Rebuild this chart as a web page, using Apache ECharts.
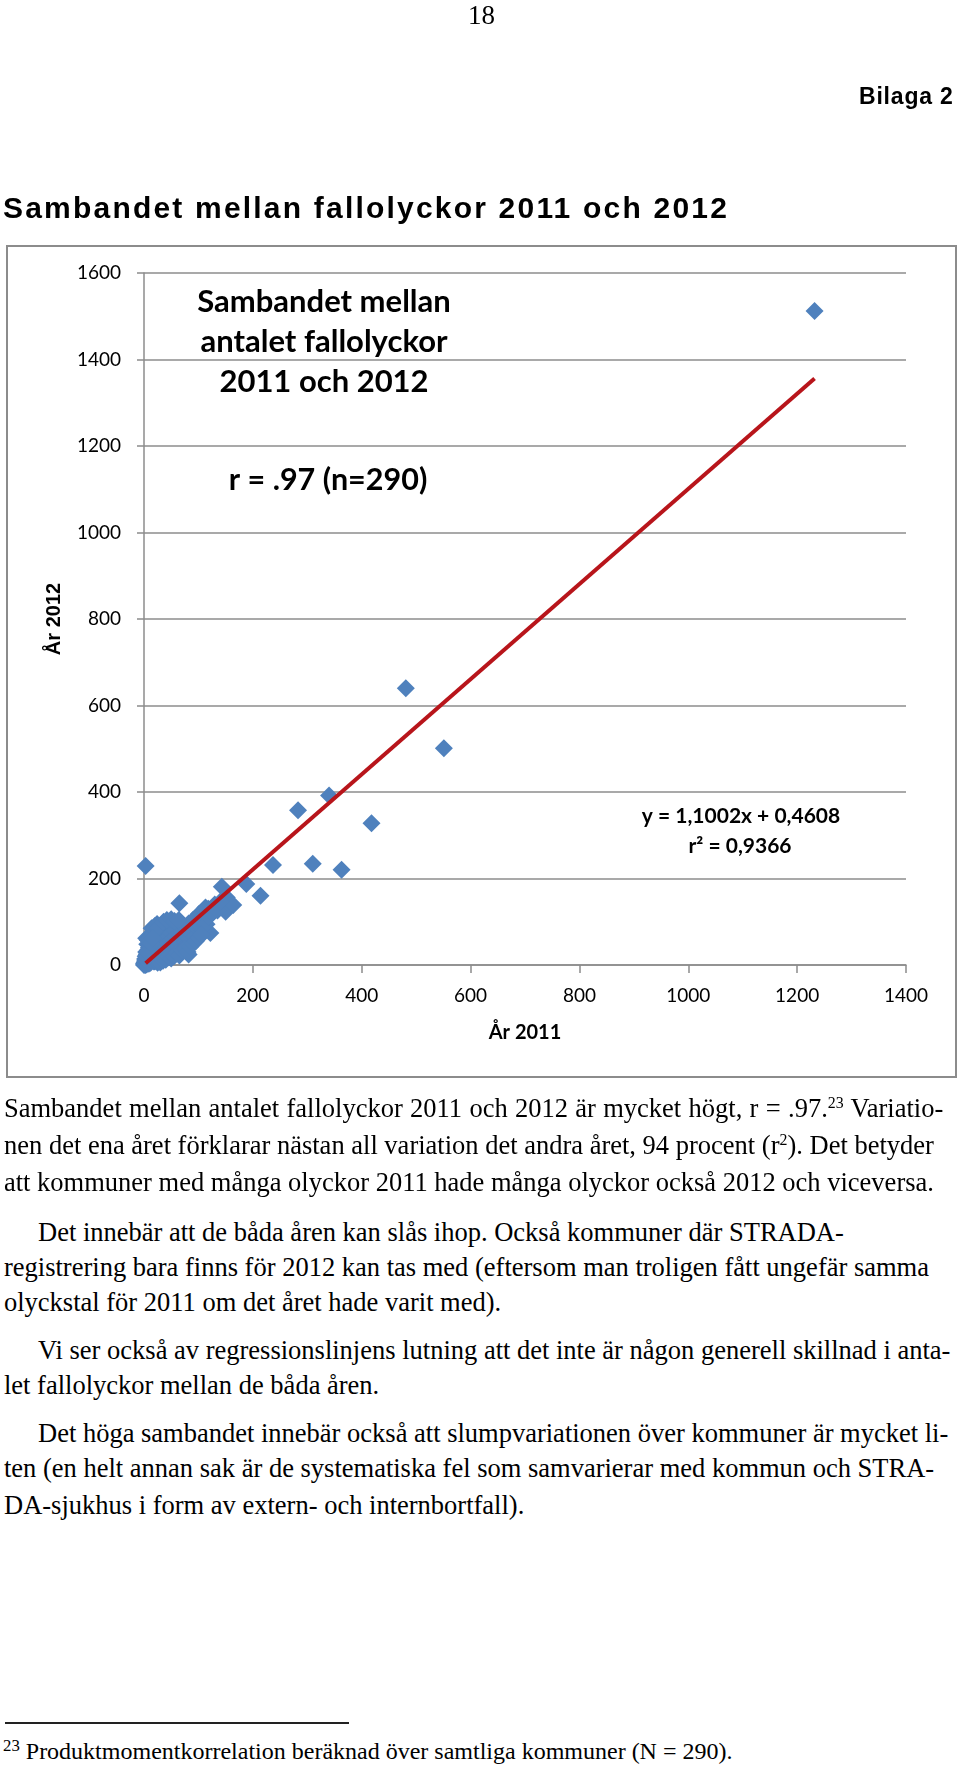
<!DOCTYPE html>
<html>
<head>
<meta charset="utf-8">
<script src="https://cdn.jsdelivr.net/npm/echarts@6/dist/echarts.min.js"></script>
<style>
  html, body { margin: 0; padding: 0; background: #fff; }
  #page { position: relative; width: 960px; height: 1768px; overflow: hidden; }
  #main { position: absolute; left: 0; top: 0; width: 960px; height: 1100px; }
  .t { position: absolute; white-space: nowrap; color: #000; z-index: 2; }
  .serif { font-family: "Liberation Serif", "DejaVu Serif", serif; }
  .body { font-size: 26.5px; line-height: 1; }
  sup { font-size: 60%; vertical-align: 0; position: relative; top: -0.55em; }
</style>
</head>
<body>
<div id="page">
  <div id="main"></div>

  <div class="t serif" style="left:468px; top:0px; font-size:27px;">18</div>
  <div class="t" style="left:859px; top:83px; font-family:'Liberation Sans'; font-weight:bold; font-size:23px; letter-spacing:0.8px;">Bilaga 2</div>
  <div class="t" style="left:3px; top:191px; font-family:'Liberation Sans'; font-weight:bold; font-size:30px; letter-spacing:2.2px;">Sambandet mellan fallolyckor 2011 och 2012</div>

  <div class="t serif body" style="left:4px; top:1095px; word-spacing:0.7px;">Sambandet mellan antalet fallolyckor 2011 och 2012 är mycket högt, r = .97.<sup>23</sup> Variatio-</div>
  <div class="t serif body" style="left:4px; top:1132px;">nen det ena året förklarar nästan all variation det andra året, 94 procent (r<sup>2</sup>). Det betyder</div>
  <div class="t serif body" style="left:4px; top:1169px;">att kommuner med många olyckor 2011 hade många olyckor också 2012 och viceversa.</div>

  <div class="t serif body" style="left:38px; top:1219px;">Det innebär att de båda åren kan slås ihop. Också kommuner där STRADA-</div>
  <div class="t serif body" style="left:4px; top:1254px;">registrering bara finns för 2012 kan tas med (eftersom man troligen fått ungefär samma</div>
  <div class="t serif body" style="left:4px; top:1289px;">olyckstal för 2011 om det året hade varit med).</div>

  <div class="t serif body" style="left:38px; top:1337px;">Vi ser också av regressionslinjens lutning att det inte är någon generell skillnad i anta-</div>
  <div class="t serif body" style="left:4px; top:1372px;">let fallolyckor mellan de båda åren.</div>

  <div class="t serif body" style="left:38px; top:1420px;">Det höga sambandet innebär också att slumpvariationen över kommuner är mycket li-</div>
  <div class="t serif body" style="left:4px; top:1455px;">ten (en helt annan sak är de systematiska fel som samvarierar med kommun och STRA-</div>
  <div class="t serif body" style="left:4px; top:1492px;">DA-sjukhus i form av extern- och internbortfall).</div>

  <div style="position:absolute; left:5px; top:1722px; width:344px; height:2px; background:#222;"></div>
  <div class="t serif" style="left:3px; top:1739px; font-size:24px; line-height:1;"><sup style="font-size:70%; top:-0.45em;">23</sup> Produktmomentkorrelation beräknad över samtliga kommuner (N = 290).</div>
</div>

<script>
// fall accidents per municipality, 2011 (x) vs 2012 (y)
const x2011 = [
  1232, 481, 551, 340, 283, 418, 3, 310, 237, 363, 143, 188, 214, 65, 152, 158, 150, 164, 113, 101,
  122, 82, 96, 45, 14, 4,
  0, 0, 1, 1, 2, 2, 3, 3, 4, 4, 5, 5, 6, 6, 7, 7, 8, 8, 9, 9,
  10, 10, 11, 11, 12, 12, 13, 14, 14, 15, 16, 16, 17, 18, 18, 19, 20, 20, 21, 22,
  22, 23, 24, 25, 26, 27, 28, 28, 30, 30, 31, 32, 33, 34, 35, 36, 37, 38, 39, 40,
  41, 42, 43, 44, 45, 46, 47, 48, 49, 50, 51, 52, 53, 54, 55, 56, 57, 58, 60, 61,
  62, 63, 64, 65, 66, 67, 68, 70, 71, 72, 74, 75, 76, 78, 79, 80, 82, 83, 84, 86,
  88, 90, 91, 93, 95, 97, 99, 102, 104, 106, 108, 110, 112, 115, 118, 120, 125, 130, 135, 140,
  2, 5, 8, 3, 6, 10, 12, 15, 9, 4, 7, 18, 20, 24, 26, 13, 16, 20, 25, 30,
  35, 40, 45, 50, 55, 60, 65, 70, 75, 80, 85, 90, 95, 100, 105, 36, 42, 50, 56, 64
]
const y2012 = [
  1512, 640, 501, 392, 358, 328, 229, 234, 231, 220, 181, 187, 160, 143, 156, 137, 123, 139, 133, 118,
  74, 24, 76, 100, 85, 62,
  0, 3, 1, 6, 2, 9, 0, 4, 12, 7, 2, 15, 9, 4, 18, 11, 6, 22, 14, 3,
  19, 9, 26, 13, 5, 30, 17, 10, 38, 22, 14, 45, 28, 8, 52, 33, 18, 60, 40, 25,
  70, 46, 14, 55, 32, 78, 20, 48, 62, 36, 12, 84, 42, 55, 26, 70, 46, 92, 34, 58,
  18, 80, 50, 96, 40, 66, 30, 88, 56, 45, 74, 22, 62, 92, 50, 36, 80, 66, 55, 98,
  42, 72, 60, 30, 86, 68, 50, 78, 62, 40, 90, 70, 54, 84, 66, 48, 96, 76, 60, 88,
  70, 104, 82, 66, 96, 86, 112, 92, 120, 102, 80, 126, 108, 94, 130, 112, 120, 140, 126, 146,
  14, 25, 35, 20, 48, 55, 66, 72, 40, 30, 58, 82, 90, 95, 86, 50, 62, 8, 5, 6,
  10, 12, 18, 15, 20, 28, 22, 34, 38, 30, 42, 50, 55, 62, 70, 100, 104, 106, 102, 104
]
// linear trend line end points (y = 1,1002x + 0,4608)
const trendX = [3, 1232]
const trendY = [4, 1356]

const xTicks = [0, 1400, 200]
const yTicks = [0, 1600, 200]

const chart = echarts.init(document.getElementById('main'))

const points = x2011.map((x, i) => [x, y2012[i]])
const trend = trendX.map((x, i) => [x, trendY[i]])

const labelFont = {fontFamily: 'Lato', fontSize: 19, color: '#000', formatter: v => String(v)}
const annot = {fontFamily: 'Lato', fontWeight: 'bold', fill: '#000', textAlign: 'center', textVerticalAlign: 'middle'}

const option = {
  animation: false,
  grid: {left: 144, top: 273, width: 762, height: 692},
  xAxis: {
    type: 'value',
    min: xTicks[0], max: xTicks[1], interval: xTicks[2],
    name: 'År 2011',
    nameLocation: 'middle',
    nameGap: 58,
    nameTextStyle: {fontFamily: 'Lato', fontWeight: 'bold', fontSize: 20, color: '#000'},
    axisLine: {show: true, onZero: false, lineStyle: {color: '#8c8c8c', width: 1.5}},
    axisTick: {show: true, length: 8, lineStyle: {color: '#8c8c8c', width: 1.5}},
    axisLabel: Object.assign({margin: 21}, labelFont),
    splitLine: {show: false}
  },
  yAxis: {
    type: 'value',
    min: yTicks[0], max: yTicks[1], interval: yTicks[2],
    name: 'År 2012',
    nameLocation: 'middle',
    nameGap: 80,
    nameTextStyle: {fontFamily: 'Liberation Sans', fontWeight: 'bold', fontSize: 20, color: '#000'},
    axisLine: {show: true, lineStyle: {color: '#8c8c8c', width: 1.5}},
    axisTick: {show: true, length: 7, lineStyle: {color: '#8c8c8c', width: 1.5}},
    axisLabel: Object.assign({margin: 23}, labelFont),
    splitLine: {show: true, lineStyle: {color: '#8c8c8c', width: 1.5}}
  },
  series: [
    {
      type: 'scatter',
      symbol: 'diamond',
      symbolSize: 18,
      itemStyle: {color: '#4F81BD', opacity: 1},
      data: points,
      z: 2
    },
    {
      type: 'line',
      data: trend,
      symbol: 'none',
      lineStyle: {color: '#B8151B', width: 4},
      z: 3
    }
  ],
  graphic: [
    {type: 'rect', shape: {x: 7, y: 246, width: 949, height: 831},
      style: {fill: 'none', stroke: '#8c8c8c', lineWidth: 2}},
    {type: 'text', x: 324, y: 302, style: Object.assign({text: 'Sambandet mellan', fontSize: 31}, annot)},
    {type: 'text', x: 324, y: 342, style: Object.assign({text: 'antalet fallolyckor', fontSize: 31}, annot)},
    {type: 'text', x: 324, y: 382, style: Object.assign({text: '2011 och 2012', fontSize: 31}, annot)},
    {type: 'text', x: 328, y: 480, style: Object.assign({text: 'r = .97 (n=290)', fontSize: 30.5}, annot)},
    {type: 'text', x: 741, y: 816, style: Object.assign({text: 'y = 1,1002x + 0,4608', fontSize: 21}, annot)},
    {type: 'text', x: 740, y: 846, style: Object.assign({text: 'r² = 0,9366', fontSize: 21}, annot)}
  ]
}

chart.setOption(option)
</script>
</body>
</html>
